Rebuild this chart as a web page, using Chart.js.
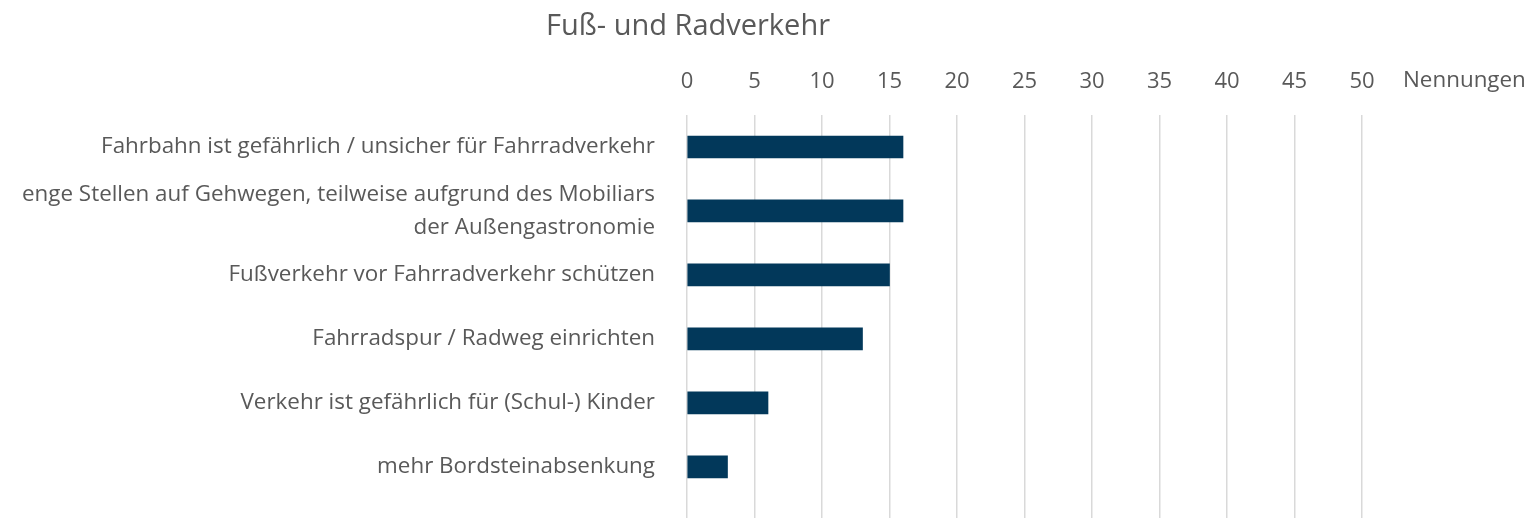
<!DOCTYPE html>
<html>
<head>
<meta charset="utf-8">
<script src="https://cdn.jsdelivr.net/npm/chart.js@4"></script>
<style>
  html, body { margin: 0; padding: 0; background: #fff; }
  #wrap { width: 1530px; height: 518px; }
</style>
</head>
<body>
<div id="wrap"><canvas id="chart"></canvas></div>
<script>
const chartTitle = "Fuß- und Radverkehr";
const unitLabel = "Nennungen";
const categories = [
  "Fahrbahn ist gefährlich / unsicher für Fahrradverkehr",
  ["enge Stellen auf Gehwegen, teilweise aufgrund des Mobiliars", "der Außengastronomie"],
  "Fußverkehr vor Fahrradverkehr schützen",
  "Fahrradspur / Radweg einrichten",
  "Verkehr ist gefährlich für (Schul-) Kinder",
  "mehr Bordsteinabsenkung"
];
const counts = [16, 16, 15, 13, 6, 3];

const textColor = "#595959";
const fontFamily = "'Open Sans', sans-serif";

// title and unit label drawn next to the axis
const extraText = {
  id: "extraText",
  afterDraw(chart) {
    const ctx = chart.ctx;
    const x = chart.scales.x;
    ctx.save();
    ctx.fillStyle = textColor;
    ctx.textBaseline = "middle";
    ctx.font = "29px " + fontFamily;
    ctx.textAlign = "center";
    ctx.fillText(chartTitle, 688, 27);
    ctx.font = "22.4px " + fontFamily;
    ctx.textAlign = "left";
    ctx.fillText(unitLabel, x.right + 41, 81);
    ctx.restore();
  }
};

new Chart(document.getElementById("chart"), {
  type: "bar",
  data: {
    datasets: [
      {
        data: counts.map((v, i) => ({ x: v, y: i })),
        backgroundColor: "#02385a",
        barThickness: 22,
      },
    ],
  },
  options: {
    indexAxis: "y",
    responsive: true,
    maintainAspectRatio: false,
    animation: false,
    layout: { padding: { top: 0, right: 168, bottom: 0, left: 0 } },
    plugins: {
      legend: { display: false },
      tooltip: { enabled: false },
    },
    scales: {
      x: {
        position: "top",
        min: 0,
        max: 50,
        ticks: {
          stepSize: 5,
          color: textColor,
          font: { family: fontFamily, size: 22 },
          padding: 20,
        },
        grid: { color: "#d9d9d9", lineWidth: 1.5, drawTicks: false },
        border: { display: false },
        afterFit: (scale) => {
          scale.height = 115;
          scale.paddingLeft = 0;
          scale.paddingRight = 0;
        },
      },
      y: {
        type: "linear",
        reverse: true,
        offset: false,
        min: -0.5,
        max: 5.8,
        afterBuildTicks: (scale) => {
          scale.ticks = categories.map((_, i) => ({ value: i }));
        },
        ticks: {
          autoSkip: false,
          color: textColor,
          font: { family: fontFamily, size: 22.4, lineHeight: 1.45 },
          padding: 24,
          callback: (v) => categories[v],
        },
        grid: { display: false },
        border: { display: false },
        afterFit: (scale) => {
          scale.width = 687;
          scale.paddingTop = 0;
          scale.paddingBottom = 0;
        },
      },
    },
  },
  plugins: [extraText],
});
</script>
</body>
</html>
